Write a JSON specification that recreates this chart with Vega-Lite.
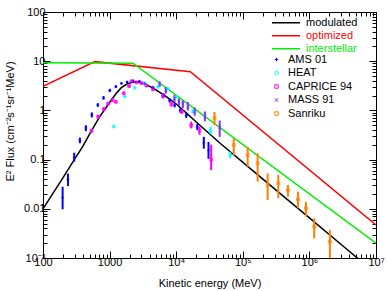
{
  "$schema": "https://vega.github.io/schema/vega-lite/v6.json",
  "width": 333,
  "height": 246,
  "autosize": {"type": "none"},
  "padding": {"left": 43, "top": 12, "right": 11, "bottom": 33},
  "background": "white",
  "config": {
    "view": {"stroke": "black", "strokeWidth": 1},
    "font": "Liberation Sans"
  },
  "datasets": {
    "lines": [
      {"series": "modulated", "E": 100, "v": 0.01},
      {"series": "modulated", "E": 150, "v": 0.0235},
      {"series": "modulated", "E": 200, "v": 0.043},
      {"series": "modulated", "E": 300, "v": 0.103},
      {"series": "modulated", "E": 400, "v": 0.19},
      {"series": "modulated", "E": 500, "v": 0.33},
      {"series": "modulated", "E": 700, "v": 0.72},
      {"series": "modulated", "E": 1000, "v": 1.45},
      {"series": "modulated", "E": 1250, "v": 2.2},
      {"series": "modulated", "E": 1500, "v": 2.9},
      {"series": "modulated", "E": 1800, "v": 3.4},
      {"series": "modulated", "E": 2100, "v": 3.7},
      {"series": "modulated", "E": 2500, "v": 3.8},
      {"series": "modulated", "E": 3000, "v": 3.65},
      {"series": "modulated", "E": 3500, "v": 3.35},
      {"series": "modulated", "E": 4500, "v": 2.85},
      {"series": "modulated", "E": 5600, "v": 2.35},
      {"series": "modulated", "E": 7100, "v": 1.9},
      {"series": "modulated", "E": 10000, "v": 1.35},
      {"series": "modulated", "E": 14000, "v": 0.9},
      {"series": "modulated", "E": 20000, "v": 0.58},
      {"series": "modulated", "E": 44700, "v": 0.22},
      {"series": "modulated", "E": 126000, "v": 0.068},
      {"series": "modulated", "E": 316000, "v": 0.024},
      {"series": "modulated", "E": 1000000, "v": 0.00653},
      {"series": "modulated", "E": 3160000, "v": 0.00177},
      {"series": "modulated", "E": 10000000, "v": 0.00048},
      {"series": "optimized", "E": 100, "v": 3.1},
      {"series": "optimized", "E": 600, "v": 9.8},
      {"series": "optimized", "E": 16300, "v": 6.1},
      {"series": "optimized", "E": 10000000, "v": 0.0047},
      {"series": "interstellar", "E": 100, "v": 9.3},
      {"series": "interstellar", "E": 2240, "v": 9.1},
      {"series": "interstellar", "E": 10000000, "v": 0.002}
    ],
    "obs": [
      {"set": "AMS 01", "E": 197, "v": 0.017, "lo": 0.0098, "hi": 0.028},
      {"set": "AMS 01", "E": 237, "v": 0.039, "lo": 0.029, "hi": 0.052},
      {"set": "AMS 01", "E": 294, "v": 0.11, "lo": 0.091, "hi": 0.138},
      {"set": "AMS 01", "E": 358, "v": 0.245, "lo": 0.215, "hi": 0.28},
      {"set": "AMS 01", "E": 440, "v": 0.44, "lo": 0.38, "hi": 0.5},
      {"set": "AMS 01", "E": 541, "v": 0.81, "lo": 0.72, "hi": 0.91},
      {"set": "AMS 01", "E": 665, "v": 1.29, "lo": 1.18, "hi": 1.4},
      {"set": "AMS 01", "E": 811, "v": 1.79, "lo": 1.65, "hi": 1.95},
      {"set": "AMS 01", "E": 1007, "v": 2.54, "lo": 2.35, "hi": 2.75},
      {"set": "AMS 01", "E": 1240, "v": 3.03, "lo": 2.85, "hi": 3.25},
      {"set": "AMS 01", "E": 1507, "v": 3.55, "lo": 3.35, "hi": 3.75},
      {"set": "AMS 01", "E": 1830, "v": 3.78, "lo": 3.6, "hi": 3.95},
      {"set": "AMS 01", "E": 2240, "v": 4.0, "lo": 3.8, "hi": 4.2},
      {"set": "AMS 01", "E": 2800, "v": 3.9, "lo": 3.7, "hi": 4.1},
      {"set": "AMS 01", "E": 3400, "v": 3.5, "lo": 3.3, "hi": 3.7},
      {"set": "AMS 01", "E": 4500, "v": 2.9, "lo": 2.7, "hi": 3.1},
      {"set": "AMS 01", "E": 6546, "v": 2.03, "lo": 1.85, "hi": 2.2},
      {"set": "AMS 01", "E": 7962, "v": 1.6, "lo": 1.45, "hi": 1.75},
      {"set": "AMS 01", "E": 9465, "v": 1.27, "lo": 1.15, "hi": 1.4},
      {"set": "AMS 01", "E": 11500, "v": 1.0, "lo": 0.9, "hi": 1.1},
      {"set": "AMS 01", "E": 14160, "v": 0.79, "lo": 0.7, "hi": 0.88},
      {"set": "AMS 01", "E": 20700, "v": 0.46, "lo": 0.4, "hi": 0.53},
      {"set": "AMS 01", "E": 25990, "v": 0.22, "lo": 0.167, "hi": 0.29},
      {"set": "AMS 01", "E": 30550, "v": 0.155, "lo": 0.104, "hi": 0.228},
      {"set": "HEAT", "E": 1156, "v": 0.47, "lo": 0.44, "hi": 0.5},
      {"set": "HEAT", "E": 1690, "v": 1.9, "lo": 1.8, "hi": 2.0},
      {"set": "HEAT", "E": 2380, "v": 2.89, "lo": 2.75, "hi": 3.05},
      {"set": "HEAT", "E": 3365, "v": 3.6, "lo": 3.45, "hi": 3.8},
      {"set": "HEAT", "E": 5321, "v": 3.0, "lo": 2.85, "hi": 3.15},
      {"set": "HEAT", "E": 7516, "v": 2.76, "lo": 2.6, "hi": 2.9},
      {"set": "HEAT", "E": 10030, "v": 1.87, "lo": 1.75, "hi": 2.0},
      {"set": "HEAT", "E": 17780, "v": 0.95, "lo": 0.87, "hi": 1.04},
      {"set": "HEAT", "E": 32730, "v": 0.39, "lo": 0.33, "hi": 0.46},
      {"set": "HEAT", "E": 64600, "v": 0.124, "lo": 0.106, "hi": 0.145},
      {"set": "CAPRICE 94", "E": 535, "v": 0.385, "lo": 0.35, "hi": 0.42},
      {"set": "CAPRICE 94", "E": 673, "v": 0.745, "lo": 0.68, "hi": 0.81},
      {"set": "CAPRICE 94", "E": 818, "v": 1.06, "lo": 0.98, "hi": 1.15},
      {"set": "CAPRICE 94", "E": 951, "v": 1.37, "lo": 1.28, "hi": 1.46},
      {"set": "CAPRICE 94", "E": 1105, "v": 1.63, "lo": 1.52, "hi": 1.74},
      {"set": "CAPRICE 94", "E": 1240, "v": 1.5, "lo": 1.4, "hi": 1.6},
      {"set": "CAPRICE 94", "E": 1633, "v": 2.23, "lo": 2.08, "hi": 2.38},
      {"set": "CAPRICE 94", "E": 1960, "v": 3.12, "lo": 2.95, "hi": 3.3},
      {"set": "CAPRICE 94", "E": 2128, "v": 3.9, "lo": 3.7, "hi": 4.1},
      {"set": "CAPRICE 94", "E": 2530, "v": 3.7, "lo": 3.5, "hi": 3.9},
      {"set": "CAPRICE 94", "E": 3006, "v": 3.6, "lo": 3.4, "hi": 3.8},
      {"set": "CAPRICE 94", "E": 3567, "v": 3.2, "lo": 3.0, "hi": 3.4},
      {"set": "CAPRICE 94", "E": 4477, "v": 2.69, "lo": 2.5, "hi": 2.9},
      {"set": "CAPRICE 94", "E": 6324, "v": 1.95, "lo": 1.75, "hi": 2.2},
      {"set": "CAPRICE 94", "E": 8450, "v": 1.33, "lo": 1.2, "hi": 1.5},
      {"set": "CAPRICE 94", "E": 12160, "v": 0.95, "lo": 0.85, "hi": 1.05},
      {"set": "CAPRICE 94", "E": 16800, "v": 0.5, "lo": 0.43, "hi": 0.59},
      {"set": "CAPRICE 94", "E": 22400, "v": 0.39, "lo": 0.32, "hi": 0.47},
      {"set": "CAPRICE 94", "E": 33500, "v": 0.1, "lo": 0.061, "hi": 0.2},
      {"set": "MASS 91", "E": 5640, "v": 3.4, "lo": 3.0, "hi": 3.9},
      {"set": "MASS 91", "E": 7000, "v": 2.6, "lo": 2.2, "hi": 3.0},
      {"set": "MASS 91", "E": 9400, "v": 1.75, "lo": 1.45, "hi": 2.05},
      {"set": "MASS 91", "E": 11000, "v": 1.5, "lo": 1.25, "hi": 1.75},
      {"set": "MASS 91", "E": 12600, "v": 1.35, "lo": 1.12, "hi": 1.6},
      {"set": "MASS 91", "E": 14960, "v": 1.22, "lo": 1.0, "hi": 1.48},
      {"set": "MASS 91", "E": 19000, "v": 0.95, "lo": 0.78, "hi": 1.15},
      {"set": "MASS 91", "E": 27000, "v": 0.75, "lo": 0.6, "hi": 0.95},
      {"set": "MASS 91", "E": 45000, "v": 0.45, "lo": 0.29, "hi": 0.62},
      {"set": "Sanriku", "E": 37600, "v": 0.7, "lo": 0.5, "hi": 0.93},
      {"set": "Sanriku", "E": 73100, "v": 0.198, "lo": 0.124, "hi": 0.271},
      {"set": "Sanriku", "E": 118400, "v": 0.124, "lo": 0.072, "hi": 0.183},
      {"set": "Sanriku", "E": 167000, "v": 0.084, "lo": 0.0356, "hi": 0.134},
      {"set": "Sanriku", "E": 236000, "v": 0.0305, "lo": 0.0151, "hi": 0.0526},
      {"set": "Sanriku", "E": 341000, "v": 0.033, "lo": 0.0163, "hi": 0.0486},
      {"set": "Sanriku", "E": 476000, "v": 0.0241, "lo": 0.0176, "hi": 0.0305},
      {"set": "Sanriku", "E": 673000, "v": 0.0156, "lo": 0.0102, "hi": 0.0223},
      {"set": "Sanriku", "E": 887000, "v": 0.0102, "lo": 0.0069, "hi": 0.0139},
      {"set": "Sanriku", "E": 1180000, "v": 0.00433, "lo": 0.0025, "hi": 0.0064},
      {"set": "Sanriku", "E": 2030000, "v": 0.00214, "lo": 0.001, "hi": 0.0037}
    ]
  },
  "layer": [
    {
      "data": {"name": "lines"},
      "mark": {"type": "line", "clip": true, "strokeWidth": 1.5},
      "encoding": {
        "x": {
          "field": "E", "type": "quantitative",
          "scale": {"type": "log", "domain": [100, 10000000], "nice": false},
          "axis": {
            "orient": "bottom",
            "values": [100,200,300,400,500,600,700,800,900,1000,2000,3000,4000,5000,6000,7000,8000,9000,10000,20000,30000,40000,50000,60000,70000,80000,90000,100000,200000,300000,400000,500000,600000,700000,800000,900000,1000000,2000000,3000000,4000000,5000000,6000000,7000000,8000000,9000000,10000000],
            "labelExpr": "datum.value==100?'100':datum.value==1000?'1000':datum.value==10000?'10⁴':datum.value==100000?'10⁵':datum.value==1000000?'10⁶':datum.value==10000000?'10⁷':''",
            "labelOverlap": false,
            "labelFlush": false,
            "labelFont": "Liberation Sans",
            "labelFontSize": 11,
            "labelColor": "black",
            "labelPadding": 5,
            "tickColor": "black",
            "tickSize": {"condition": {"test": "abs(log(datum.value)/LN10-round(log(datum.value)/LN10))<0.000001", "value": -7}, "value": -4},
            "domain": false,
            "grid": false,
            "title": "Kinetic energy (MeV)",
            "titleFont": "Liberation Sans",
            "titleFontSize": 11,
            "titleFontWeight": "normal",
            "titleColor": "black",
            "titlePadding": 7
          }
        },
        "y": {
          "field": "v", "type": "quantitative",
          "scale": {"type": "log", "domain": [0.001, 100], "nice": false},
          "axis": {
            "orient": "left",
            "values": [0.001,0.002,0.003,0.004,0.005,0.006,0.007,0.008,0.009,0.01,0.02,0.03,0.04,0.05,0.06,0.07,0.08,0.09,0.1,0.2,0.3,0.4,0.5,0.6,0.7,0.8,0.9,1,2,3,4,5,6,7,8,9,10,20,30,40,50,60,70,80,90,100],
            "labelExpr": "datum.value==100?'100':datum.value==10?'10':datum.value==1?'1':datum.value==0.1?'0.1':datum.value==0.01?'0.01':datum.value==0.001?'10⁻³':''",
            "labelOverlap": false,
            "labelFlush": false,
            "labelFont": "Liberation Sans",
            "labelFontSize": 11,
            "labelColor": "black",
            "labelPadding": 5,
            "tickColor": "black",
            "tickSize": {"condition": {"test": "abs(log(datum.value)/LN10-round(log(datum.value)/LN10))<0.000001", "value": -7}, "value": -4},
            "domain": false,
            "grid": false,
            "title": "E² Flux (cm⁻²s⁻¹sr⁻¹MeV)",
            "titleFont": "Liberation Sans",
            "titleFontSize": 11,
            "titleFontWeight": "normal",
            "titleColor": "black",
            "titleX": -33,
            "titleY": 109,
            "titleAlign": "center",
            "titleBaseline": "middle",
            "titleAngle": -90
          }
        },
        "stroke": {
          "field": "series", "type": "nominal",
          "scale": {"domain": ["modulated", "optimized", "interstellar"], "range": ["#000000", "#ff0000", "#00ee00"]},
          "legend": {
            "orient": "none",
            "legendX": 228,
            "legendY": 5,
            "title": null,
            "symbolType": "stroke",
            "symbolSize": 784,
            "symbolStrokeWidth": 1.5,
            "clipHeight": 11.3,
            "labelFont": "Liberation Sans",
            "labelFontSize": 11,
            "labelOffset": 5,
            "rowPadding": 0,
            "padding": 0,
            "encode": {"labels": {"update": {"fill": {"signal": "datum.value=='modulated'?'#000000':datum.value=='optimized'?'#ff0000':'#00ee00'"}}}}
          }
        },
        "detail": {"field": "series"}
      }
    },
    {
      "data": {"name": "obs"},
      "mark": {"type": "rule", "clip": true, "strokeWidth": 2},
      "encoding": {
        "x": {"field": "E", "type": "quantitative", "scale": {"type": "log", "domain": [100, 10000000], "nice": false}, "axis": null},
        "y": {"field": "lo", "type": "quantitative", "scale": {"type": "log", "domain": [0.001, 100], "nice": false}, "axis": null},
        "y2": {"field": "hi"},
        "color": {
          "field": "set", "type": "nominal",
          "scale": {"domain": ["AMS 01", "HEAT", "CAPRICE 94", "MASS 91", "Sanriku"], "range": ["#0000ff", "#00ffff", "#ff00ff", "#7f33ff", "#ff8000"]}
        }
      }
    },
    {
      "data": {"name": "obs"},
      "mark": {"type": "point", "clip": true, "filled": false, "size": 8, "strokeWidth": 1, "opacity": 0.8},
      "encoding": {
        "x": {"field": "E", "type": "quantitative", "scale": {"type": "log", "domain": [100, 10000000], "nice": false}, "axis": null},
        "y": {"field": "v", "type": "quantitative", "scale": {"type": "log", "domain": [0.001, 100], "nice": false}, "axis": null},
        "color": {
          "field": "set", "type": "nominal",
          "scale": {"domain": ["AMS 01", "HEAT", "CAPRICE 94", "MASS 91", "Sanriku"], "range": ["#0000ff", "#00ffff", "#ff00ff", "#7f33ff", "#ff8000"]},
          "legend": {
            "orient": "none",
            "legendX": 228,
            "legendY": 42,
            "title": null,
            "symbolSize": 12,
            "symbolStrokeWidth": 1,
            "symbolOpacity": 1,
            "labelFont": "Liberation Sans",
            "labelFontSize": 11,
            "labelOffset": 6,
            "rowPadding": 1.5,
            "padding": 0,
            "encode": {"labels": {"update": {"fill": {"signal": "datum.value=='AMS 01'?'#0000ff':datum.value=='HEAT'?'#00e8ff':datum.value=='CAPRICE 94'?'#ff00ff':datum.value=='MASS 91'?'#7f33ff':'#ff8000'"}}}}
          }
        },
        "shape": {
          "field": "set", "type": "nominal",
          "scale": {"domain": ["AMS 01", "HEAT", "CAPRICE 94", "MASS 91", "Sanriku"], "range": ["M-1,0H1M0,-1V1", "circle", "square", "M-1,-1L1,1M-1,1L1,-1", "square"]}
        }
      }
    },
    {
      "data": {"name": "lines"},
      "mark": {"type": "point", "opacity": 0},
      "encoding": {
        "x": {
          "field": "E", "type": "quantitative",
          "scale": {"type": "log", "domain": [100, 10000000], "nice": false},
          "axis": {
            "orient": "top",
            "values": [100,200,300,400,500,600,700,800,900,1000,2000,3000,4000,5000,6000,7000,8000,9000,10000,20000,30000,40000,50000,60000,70000,80000,90000,100000,200000,300000,400000,500000,600000,700000,800000,900000,1000000,2000000,3000000,4000000,5000000,6000000,7000000,8000000,9000000,10000000],
            "labels": false, "domain": false, "grid": false, "title": null,
            "tickColor": "black",
            "tickSize": {"condition": {"test": "abs(log(datum.value)/LN10-round(log(datum.value)/LN10))<0.000001", "value": -7}, "value": -4}
          }
        },
        "y": {
          "field": "v", "type": "quantitative",
          "scale": {"type": "log", "domain": [0.001, 100], "nice": false},
          "axis": {
            "orient": "right",
            "values": [0.001,0.002,0.003,0.004,0.005,0.006,0.007,0.008,0.009,0.01,0.02,0.03,0.04,0.05,0.06,0.07,0.08,0.09,0.1,0.2,0.3,0.4,0.5,0.6,0.7,0.8,0.9,1,2,3,4,5,6,7,8,9,10,20,30,40,50,60,70,80,90,100],
            "labels": false, "domain": false, "grid": false, "title": null,
            "tickColor": "black",
            "tickSize": {"condition": {"test": "abs(log(datum.value)/LN10-round(log(datum.value)/LN10))<0.000001", "value": -7}, "value": -4}
          }
        }
      }
    }
  ],
  "resolve": {"axis": {"x": "independent", "y": "independent"}}
}
